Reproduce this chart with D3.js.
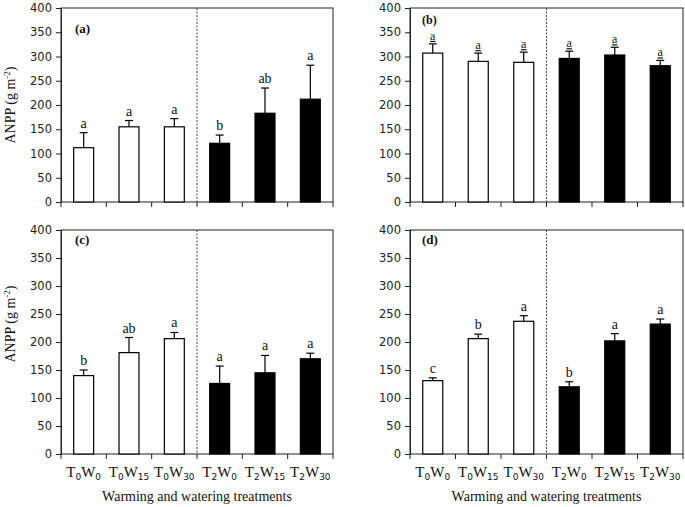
<!DOCTYPE html>
<html><head><meta charset="utf-8">
<script src="https://cdn.jsdelivr.net/npm/d3@7"></script>
<style>body{margin:0;background:#fff}svg{display:block}</style>
</head><body>
<svg id="c" width="685" height="507"></svg>
<script>
const categories = ["T0W0","T0W15","T0W30","T2W0","T2W15","T2W30"];
const catMain = [["T","0","W","0"],["T","0","W","15"],["T","0","W","30"],["T","2","W","0"],["T","2","W","15"],["T","2","W","30"]];
const yTicks = [0,50,100,150,200,250,300,350,400];
const panelNames = ["(a)","(b)","(c)","(d)"];
const meanA = [112,155,155,121,183,212];
const errA  = [143,168,172,138,235,282];
const sigA  = ["a","a","a","b","ab","a"];
const meanB = [307,290,288,296,303,281];
const errB  = [326,307,309,311,319,292];
const sigB  = ["a","a","a","a","a","a"];
const meanC = [140,181,206,126,145,170];
const errC  = [150,208,217,157,176,180];
const sigC  = ["b","ab","a","a","a","a"];
const meanD = [131,206,237,120,202,232];
const errD  = [136,214,247,129,215,241];
const sigD  = ["c","b","a","b","a","a"];

const svg = d3.select("#c");
const panels = [
  {name:panelNames[0], mean:meanA, err:errA, sig:sigA, x0:61, x1:333, y0:8, y1:202, yl:true, xl:false, lx:75, ly:33, ul:false, fs:14},
  {name:panelNames[1], mean:meanB, err:errB, sig:sigB, x0:410, x1:683, y0:8, y1:202, yl:false, xl:false, lx:422, ly:24, ul:true, fs:12},
  {name:panelNames[2], mean:meanC, err:errC, sig:sigC, x0:61, x1:333, y0:230, y1:454, yl:true, xl:true, lx:75, ly:244, ul:false, fs:14},
  {name:panelNames[3], mean:meanD, err:errD, sig:sigD, x0:410, x1:683, y0:230, y1:454, yl:false, xl:true, lx:422, ly:244, ul:false, fs:14}
];
const serif = "'Liberation Serif','Times New Roman',serif";
const sans = "'DejaVu Sans',Verdana,sans-serif";

panels.forEach(p => {
  const g = svg.append("g");
  const x = d3.scaleBand().domain(categories).range([p.x0,p.x1]).paddingInner(0.56).paddingOuter(0.28);
  const y = d3.scaleLinear().domain([0,400]).range([p.y1,p.y0]);
  const step = x.step();
  const bw = x.bandwidth();
  g.append("rect").attr("x",p.x0).attr("y",p.y0).attr("width",p.x1-p.x0).attr("height",p.y1-p.y0)
    .attr("fill","none").attr("stroke","#222").attr("stroke-width",1);
  const ya = d3.axisLeft(y).tickValues(yTicks).tickSize(5).tickPadding(4);
  const yg = g.append("g").attr("transform",`translate(${p.x0},0)`).call(ya);
  yg.select(".domain").attr("stroke","#222");
  yg.selectAll(".tick line").attr("stroke","#222");
  yg.selectAll("text").attr("font-family",sans).attr("font-size",11.5).attr("fill","#222");
  const bounds = categories.map(c => x(c) - (step-bw)/2).concat([p.x1]);
  g.selectAll(".xt").data(bounds).enter().append("line")
    .attr("x1",d=>d).attr("x2",d=>d).attr("y1",p.y1).attr("y2",p.y1+5).attr("stroke","#222");
  const dx = x(categories[3]) - (step-bw)/2;
  g.append("line").attr("x1",dx).attr("x2",dx).attr("y1",p.y0).attr("y2",p.y1)
    .attr("stroke","#444").attr("stroke-dasharray","2,1.5").attr("stroke-width",1);
  g.selectAll(".bar").data(categories).enter().append("rect")
    .attr("x",c=>x(c)).attr("width",bw)
    .attr("y",(c,i)=>y(p.mean[i])).attr("height",(c,i)=>y(0)-y(p.mean[i]))
    .attr("fill",(c,i)=> i<3 ? "#fff" : "#000").attr("stroke","#000").attr("stroke-width",1.2);
  categories.forEach((c,i) => {
    const cx = x(c)+bw/2;
    g.append("line").attr("x1",cx).attr("x2",cx).attr("y1",y(p.mean[i])).attr("y2",y(p.err[i])).attr("stroke","#000").attr("stroke-width",1.2);
    g.append("line").attr("x1",cx-4).attr("x2",cx+4).attr("y1",y(p.err[i])).attr("y2",y(p.err[i])).attr("stroke","#000").attr("stroke-width",1.2);
    const t = g.append("text").attr("x",cx).attr("y",y(p.err[i])-(p.ul?4:5)).attr("text-anchor","middle")
      .attr("font-family",serif).attr("font-size",p.fs).attr("fill","#111").text(p.sig[i]);
    if (p.ul) t.attr("text-decoration","underline");
  });
  g.append("text").attr("x",p.lx).attr("y",p.ly).attr("font-family",serif).attr("font-weight","bold")
    .attr("font-size",p.ul?12:13).attr("fill","#111").text(p.name);
  if (p.yl) {
    const cy = (p.y0+p.y1)/2 - (p.xl ? 18 : 0);
    const t = g.append("text").attr("transform",`translate(15,${cy}) rotate(-90)`).attr("text-anchor","middle")
      .attr("font-family",serif).attr("font-size",14).attr("fill","#111");
    t.append("tspan").text(p.xl ? "ANPP (g m" : "ANPP  (g m");
    t.append("tspan").attr("font-size",9).attr("dy",-5).text("-2");
    t.append("tspan").attr("dy",5).text(")");
  }
  if (p.xl) {
    categories.forEach((c,i) => {
      const parts = catMain[i];
      const t = g.append("text").attr("x",x(c)+bw/2).attr("y",p.y1+23).attr("text-anchor","middle")
        .attr("font-family",serif).attr("font-size",15).attr("fill","#111");
      t.append("tspan").text(parts[0]);
      t.append("tspan").attr("font-family",sans).attr("font-size",9).attr("dy",3).text(parts[1]);
      t.append("tspan").attr("dy",-3).text(parts[2]);
      t.append("tspan").attr("font-family",sans).attr("font-size",9).attr("dy",3).text(parts[3]);
    });
    g.append("text").attr("x",(p.x0+p.x1)/2).attr("y",p.y1+47).attr("text-anchor","middle")
      .attr("font-family",serif).attr("font-size",14).attr("fill","#111").text("Warming and watering treatments");
  }
});
</script>
</body></html>
